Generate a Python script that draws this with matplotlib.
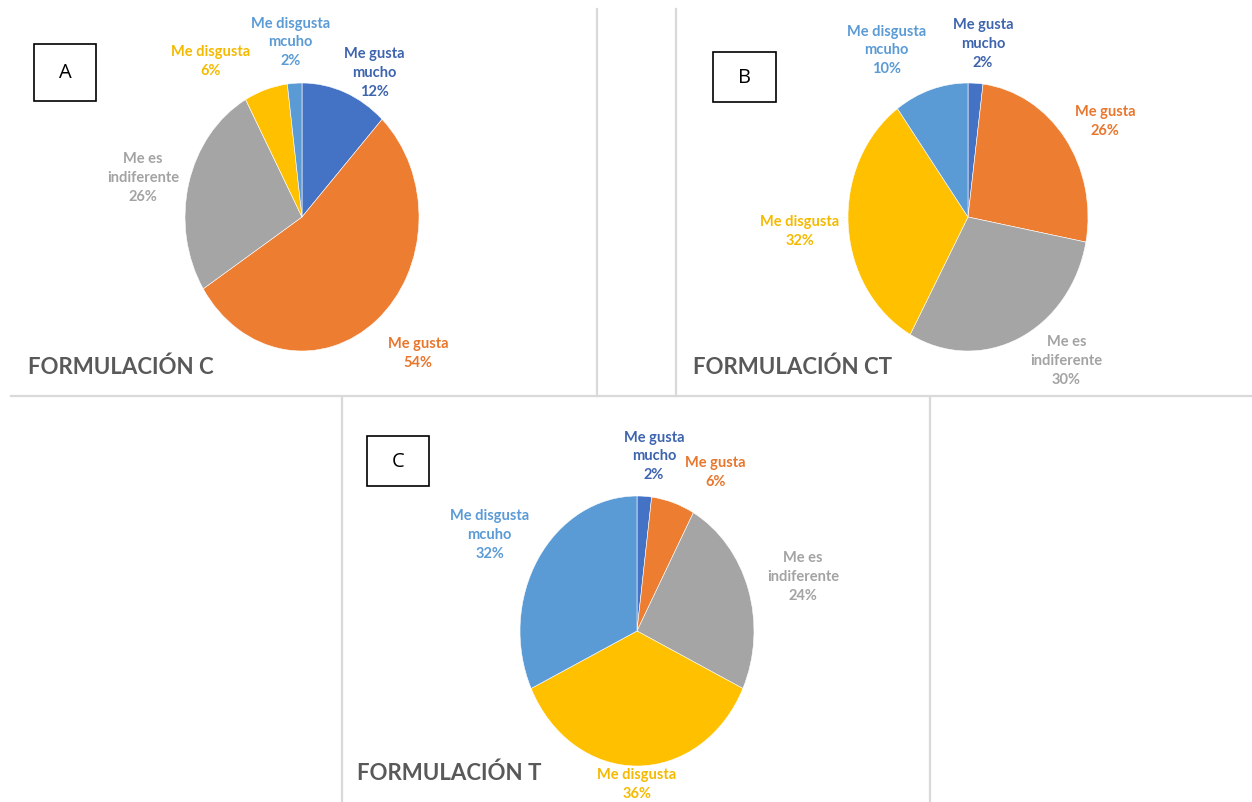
import matplotlib.pyplot as plt
from matplotlib.lines import Line2D
from matplotlib.patches import Rectangle

plt.rcParams['font.family'] = ['Lato', 'DejaVu Sans']

W, H = 1252, 803

categories = ['Me gusta\nmucho', 'Me gusta', 'Me es\nindiferente', 'Me disgusta', 'Me disgusta\nmcuho']
colors = ['#4472C4', '#ED7D31', '#A5A5A5', '#FFC000', '#5B9BD5']
text_colors = ['#3E64AE', '#E8772E', '#A3A3A3', '#F5BA00', '#5B9BD5']

vals_c = [12, 54, 26, 6, 2]
vals_ct = [2, 26, 30, 32, 10]
vals_t = [2, 6, 24, 36, 32]

titles = ['FORMULACIÓN C', 'FORMULACIÓN CT', 'FORMULACIÓN T']
letters = ['A', 'B', 'C']

# label positions in units of the pie radius (x, y)
lab_c = [(0.62, 1.08), (0.99, -1.01), (-1.36, 0.30), (-0.78, 1.17), (-0.10, 1.31)]
lab_ct = [(0.125, 1.30), (1.14, 0.72), (0.82, -1.07), (-1.40, -0.10), (-0.68, 1.25)]
lab_t = [(0.145, 1.30), (0.67, 1.18), (1.42, 0.41), (0.0, -1.13), (-1.26, 0.72)]

# layout in pixels: pie centre, radii, title pos, letter box
panels = [
    dict(c=(302, 218), r=(117, 134), title=(28, 367), box=(34, 45, 62, 57)),
    dict(c=(968, 218), r=(120, 134), title=(693, 367), box=(713, 53, 63, 50)),
    dict(c=(637, 632), r=(117, 135), title=(357, 773), box=(367, 437, 62, 50)),
]

fig = plt.figure(figsize=(W / 100, H / 100), dpi=100)
fig.patch.set_facecolor('white')


def fx(px):
    return px / W


def fy(py):
    return 1 - py / H


# panel frame lines
line_kw = dict(color='#d9d9d9', lw=1.6, transform=fig.transFigure)
fig.add_artist(Line2D([fx(11), fx(1252)], [fy(397), fy(397)], **line_kw))
fig.add_artist(Line2D([fx(597), fx(597)], [fy(10), fy(397)], **line_kw))
fig.add_artist(Line2D([fx(676), fx(676)], [fy(10), fy(397)], **line_kw))
fig.add_artist(Line2D([fx(342), fx(342)], [fy(399), fy(803)], **line_kw))
fig.add_artist(Line2D([fx(930), fx(930)], [fy(399), fy(803)], **line_kw))

k = 1.8
for vals, labs, title, letter, p in zip([vals_c, vals_ct, vals_t], [lab_c, lab_ct, lab_t],
                                        titles, letters, panels):
    cx, cy = p['c']
    rx, ry = p['r']
    ax = fig.add_axes([fx(cx - k * rx), fy(cy + k * ry), 2 * k * rx / W, 2 * k * ry / H])
    ax.pie(vals, colors=colors, startangle=90, counterclock=False,
           wedgeprops=dict(edgecolor='white', linewidth=0.4))
    ax.set_aspect('auto')
    ax.set_xlim(-k, k)
    ax.set_ylim(-k, k)
    ax.axis('off')
    for name, v, (lx, ly), tc in zip(categories, vals, labs, text_colors):
        ax.text(lx, ly, f'{name}\n{v}%', ha='center', va='center', fontsize=10.5,
                fontweight='bold', color=tc, linespacing=1.45)

    tx, ty = p['title']
    fig.text(fx(tx), fy(ty), title, ha='left', va='center', fontsize=16,
             fontweight='bold', color='#595959')

    bx, by, bw, bh = p['box']
    fig.add_artist(Rectangle((fx(bx), fy(by + bh)), bw / W, bh / H, transform=fig.transFigure,
                             facecolor='white', edgecolor='black', lw=1.2))
    fig.text(fx(bx + bw / 2), fy(by + bh / 2), letter, ha='center', va='center',
             fontsize=14.5, color='black', family=['Open Sans', 'DejaVu Sans'])

plt.savefig('out.png', dpi=100)
